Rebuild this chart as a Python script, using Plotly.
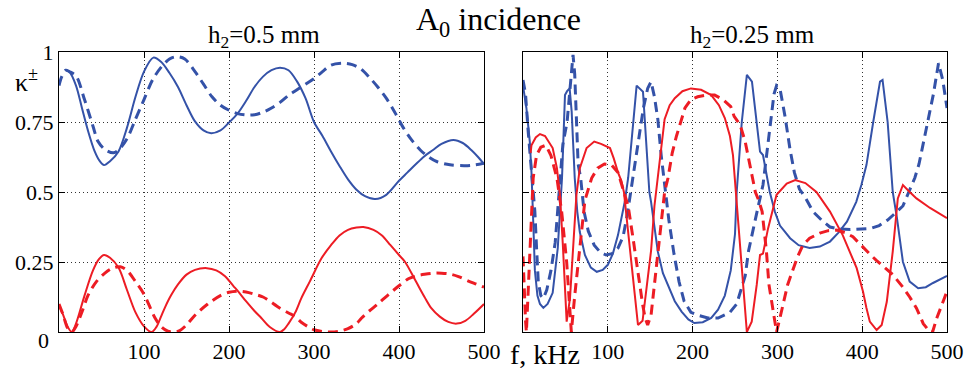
import plotly.graph_objects as go

# ---------------- data ----------------
# Left panel: h2 = 0.5 mm
L_bs_f = [8, 12, 20, 27, 34, 42, 48, 53, 60, 70, 80, 90, 100, 111, 120, 130, 140, 150, 160, 170, 179, 190,
          200, 210, 220, 230, 240, 250, 260, 270, 280, 290, 300, 310, 320, 330, 340, 350, 360, 372, 385,
          400, 410, 420, 430, 440, 450, 464, 475, 485, 493, 500]
L_bs_k = [0.935, 0.93, 0.88, 0.80, 0.72, 0.645, 0.61, 0.596, 0.61, 0.645, 0.73, 0.84, 0.93, 0.98, 0.965,
          0.925, 0.875, 0.81, 0.752, 0.72, 0.71, 0.72, 0.748, 0.78, 0.825, 0.875, 0.912, 0.935, 0.944, 0.935,
          0.895, 0.835, 0.75, 0.70, 0.645, 0.593, 0.545, 0.508, 0.485, 0.475, 0.49, 0.54, 0.57, 0.60, 0.628,
          0.65, 0.672, 0.686, 0.675, 0.65, 0.625, 0.60]

L_bd_f = [0, 3, 8, 12, 20, 30, 40, 46, 54, 64, 70, 80, 90, 100, 110, 120, 130, 138, 148, 160, 170, 180, 190,
          200, 210, 220, 230, 240, 250, 260, 270, 280, 290, 300, 310, 320, 334, 345, 355, 365, 375, 385, 395,
          405, 415, 425, 435, 445, 460, 478, 490, 500]
L_bd_k = [0.88, 0.91, 0.935, 0.93, 0.915, 0.83, 0.735, 0.68, 0.652, 0.64, 0.65, 0.69, 0.76, 0.83, 0.90,
          0.945, 0.975, 0.983, 0.975, 0.93, 0.885, 0.84, 0.81, 0.792, 0.78, 0.775, 0.776, 0.785, 0.80, 0.82,
          0.845, 0.865, 0.885, 0.905, 0.93, 0.953, 0.96, 0.955, 0.94, 0.91, 0.875, 0.835, 0.785, 0.73, 0.685,
          0.65, 0.625, 0.608, 0.597, 0.594, 0.597, 0.603]

L_rs_f = [0, 5, 10, 15, 20, 30, 40, 47, 53, 60, 70, 80, 90, 100, 109, 115, 120, 125, 132, 140, 150, 160, 174,
          185, 195, 205, 211, 220, 230, 238, 248, 260, 265, 270, 278, 285, 295, 309, 320, 330, 340, 350, 358,
          370, 380, 390, 400, 407, 420, 430, 438, 448, 458, 468, 478, 488, 500]
L_rs_k = [0.096, 0.06, 0.02, 0.0, 0.03, 0.13, 0.22, 0.26, 0.275, 0.265, 0.23, 0.15, 0.07, 0.02, 0.0, 0.02,
          0.055, 0.09, 0.132, 0.17, 0.205, 0.222, 0.228, 0.22, 0.20, 0.165, 0.144, 0.11, 0.075, 0.05, 0.018,
          0.0, 0.01, 0.03, 0.07, 0.12, 0.18, 0.264, 0.31, 0.345, 0.365, 0.373, 0.375, 0.365, 0.345, 0.31,
          0.275, 0.251, 0.18, 0.125, 0.085, 0.055, 0.036, 0.03, 0.04, 0.065, 0.10]

L_rd_f = [0, 5, 10, 15, 20, 28, 34, 44, 54, 63, 72, 80, 90, 100, 113, 120, 128, 135, 142, 150, 160, 175, 191,
          200, 210, 220, 230, 240, 246, 260, 270, 278, 285, 293, 300, 310, 320, 330, 340, 350, 356, 365, 375,
          387, 400, 411, 420, 430, 440, 450, 460, 470, 481, 490, 500]
L_rd_k = [0.10, 0.06, 0.015, 0.0, 0.02, 0.08, 0.13, 0.18, 0.21, 0.228, 0.233, 0.22, 0.18, 0.135, 0.05, 0.02,
          0.003, 0.0, 0.005, 0.025, 0.06, 0.10, 0.132, 0.142, 0.146, 0.143, 0.135, 0.125, 0.114, 0.085,
          0.068, 0.055, 0.035, 0.019, 0.008, 0.002, 0.0, 0.003, 0.012, 0.03, 0.05, 0.075, 0.10, 0.132, 0.165,
          0.19, 0.20, 0.206, 0.21, 0.21, 0.207, 0.198, 0.183, 0.172, 0.16]

# Right panel: h2 = 0.25 mm
R_bs_f = [0, 4, 8, 10, 12, 14, 17, 20, 24, 29, 35, 41, 46, 49.5, 52, 55, 57.4, 61, 64, 67, 73, 80, 87, 94,
          100, 106, 112, 116, 120, 124, 129, 134, 141.5, 149, 151, 155, 159, 165, 171, 179, 187, 195, 202,
          212, 222, 230, 238, 245, 250, 252, 258, 264, 270, 279.5, 283, 291, 297, 303, 315, 325, 338, 350,
          362, 372, 382, 393, 399, 405, 413, 421, 424, 430, 436, 441, 448, 456, 466, 475, 483.5, 500]
R_bs_k = [0.88, 0.80, 0.68, 0.57, 0.40, 0.22, 0.13, 0.10, 0.086, 0.10, 0.14, 0.30, 0.55, 0.846, 0.86, 0.87,
          0.787, 0.55, 0.43, 0.357, 0.275, 0.23, 0.215, 0.222, 0.24, 0.28, 0.346, 0.40, 0.465, 0.55, 0.72,
          0.88, 0.858, 0.50, 0.465, 0.37, 0.287, 0.21, 0.168, 0.11, 0.073, 0.045, 0.032, 0.035, 0.05, 0.08,
          0.13, 0.22, 0.35, 0.50, 0.75, 0.918, 0.894, 0.644, 0.632, 0.50, 0.43, 0.38, 0.335, 0.31, 0.30,
          0.305, 0.323, 0.355, 0.394, 0.465, 0.525, 0.596, 0.75, 0.894, 0.90, 0.75, 0.50, 0.407, 0.251, 0.18,
          0.156, 0.16, 0.175, 0.20]

R_bd_f = [0, 3, 6, 9, 12, 14, 16, 18, 21, 24, 28, 33, 38, 41, 44, 47, 52, 56, 59, 61, 63, 65, 68, 72, 77,
          84, 91, 98, 105, 112, 118, 123, 127, 132, 137, 142, 147, 151, 155, 159, 163, 167, 172, 178, 184,
          190, 198, 206, 218, 230, 244, 252, 258, 262, 266, 270, 276, 283, 288, 292, 296, 299, 303, 309, 315,
          320, 326, 333, 342, 352, 362, 372, 386, 400, 410, 420, 430, 441, 448, 455, 462, 467, 472, 478, 484,
          490, 495, 500]
R_bd_k = [0.90, 0.85, 0.72, 0.60, 0.50, 0.43, 0.30, 0.18, 0.13, 0.12, 0.15, 0.22, 0.32, 0.43, 0.55, 0.67,
          0.75, 0.90, 0.99, 0.92, 0.75, 0.60, 0.55, 0.43, 0.36, 0.31, 0.285, 0.275, 0.28, 0.30, 0.34, 0.42,
          0.50, 0.60, 0.70, 0.80, 0.87, 0.894, 0.84, 0.76, 0.63, 0.52, 0.40, 0.28, 0.18, 0.11, 0.07, 0.06,
          0.05, 0.05, 0.07, 0.10, 0.16, 0.20, 0.29, 0.35, 0.43, 0.525, 0.64, 0.75, 0.85, 0.88, 0.87, 0.77,
          0.65, 0.57, 0.51, 0.48, 0.43, 0.40, 0.375, 0.368, 0.366, 0.367, 0.37, 0.38, 0.40, 0.43, 0.45, 0.50,
          0.55, 0.60, 0.67, 0.76, 0.85, 0.96, 0.90, 0.80]

R_rs_f = [9, 10, 15, 20, 26, 35, 40, 43.6, 47, 51.5, 55.4, 59, 63, 67, 75, 84, 92, 102.6, 107, 112, 116, 119,
          124, 129, 133, 135.6, 141, 146, 151, 155, 159, 163, 167, 173, 179, 188, 198, 210, 222, 231, 238,
          244, 247.6, 251, 255, 259, 262, 264, 269.7, 275.6, 279.5, 283, 289, 299, 311, 321, 333, 346, 362,
          377, 393.5, 401, 405, 409, 417, 423, 429, 436, 442, 448, 456, 464, 480, 500]
R_rs_k = [0.64, 0.667, 0.695, 0.707, 0.70, 0.657, 0.585, 0.49, 0.31, 0.037, 0.12, 0.31, 0.49, 0.585, 0.657,
          0.68, 0.672, 0.657, 0.62, 0.57, 0.54, 0.50, 0.35, 0.20, 0.08, 0.025, 0.04, 0.16, 0.29, 0.45, 0.55,
          0.67, 0.76, 0.81, 0.835, 0.86, 0.87, 0.865, 0.846, 0.81, 0.764, 0.70, 0.632, 0.50, 0.35, 0.20,
          0.08, 0.0, 0.037, 0.168, 0.275, 0.28, 0.37, 0.49, 0.53, 0.543, 0.532, 0.50, 0.43, 0.346, 0.228,
          0.144, 0.086, 0.037, 0.007, 0.025, 0.108, 0.287, 0.477, 0.525, 0.50, 0.477, 0.443, 0.407]

R_rd_f = [0, 1, 2, 3, 4, 6, 8, 12, 16, 21, 27, 33, 40, 45.6, 51.5, 55.4, 57, 61, 67, 73, 81, 88, 96, 104,
          112, 117, 124, 130, 136, 141, 144, 147, 151, 156, 161, 167, 171, 176, 181, 186, 191, 198, 206, 216,
          226, 236, 245, 249, 256, 262, 265, 270, 274, 278, 282, 285, 287, 290, 295, 299, 303, 312, 318, 324,
          330, 338, 350, 360, 370, 380, 389, 400, 410, 417, 425, 436, 448, 456, 464, 472, 480, 483, 488, 494,
          500]
R_rd_k = [0.27, 0.18, 0.10, 0.04, 0.0, 0.15, 0.31, 0.55, 0.632, 0.66, 0.667, 0.63, 0.55, 0.43, 0.25, 0.07,
          0.0, 0.13, 0.31, 0.47, 0.55, 0.585, 0.60, 0.598, 0.57, 0.52, 0.45, 0.33, 0.20, 0.10, 0.05, 0.025,
          0.06, 0.20, 0.35, 0.50, 0.55, 0.64, 0.70, 0.75, 0.80, 0.83, 0.84, 0.846, 0.846, 0.83, 0.805, 0.77,
          0.74, 0.68, 0.63, 0.56, 0.50, 0.47, 0.43, 0.35, 0.29, 0.17, 0.07, 0.0, 0.05, 0.168, 0.22, 0.27,
          0.31, 0.335, 0.353, 0.362, 0.364, 0.355, 0.34, 0.305, 0.275, 0.255, 0.235, 0.205, 0.16, 0.125,
          0.085, 0.03, 0.0, 0.0, 0.05, 0.10, 0.145]

x_ticks = [100, 200, 300, 400, 500]
x_ticktext = ["100", "200", "300", "400", "500"]
y_ticks = [0.25, 0.5, 0.75, 1]
y_ticktext = ["0.25", "0.5", "0.75", "1"]
y_zero_label = "0"

title = "A<sub>0</sub> incidence"
sub_left = "h<sub>2</sub>=0.5 mm"
sub_right = "h<sub>2</sub>=0.25 mm"

# ---------------- styling ----------------
BLUE = "rgb(52,82,168)"
RED = "rgb(237,28,36)"
FONT = "Liberation Serif, Times New Roman, serif"
W, H = 967, 372

fig = go.Figure()

def add(xs, ys, color, dashed, xa, ya, shape):
    fig.add_trace(go.Scatter(
        x=xs, y=ys, mode="lines", xaxis=xa, yaxis=ya, showlegend=False,
        line=dict(color=color, width=3 if dashed else 2,
                  dash="10px,6px" if dashed else "solid",
                  shape=shape, smoothing=0.9 if shape == "spline" else None),
        cliponaxis=True, hoverinfo="skip"))

add(L_bs_f, L_bs_k, BLUE, False, "x", "y", "spline")
add(L_bd_f, L_bd_k, BLUE, True, "x", "y", "spline")
add(L_rs_f, L_rs_k, RED, False, "x", "y", "spline")
add(L_rd_f, L_rd_k, RED, True, "x", "y", "spline")

add(R_bs_f, R_bs_k, BLUE, False, "x2", "y2", "linear")
add(R_bd_f, R_bd_k, BLUE, True, "x2", "y2", "linear")
add(R_rs_f, R_rs_k, RED, False, "x2", "y2", "linear")
add(R_rd_f, R_rd_k, RED, True, "x2", "y2", "linear")

ydom = [1 - 332 / H, 1 - 52 / H]
common = dict(showline=True, linecolor="black", linewidth=1, mirror="allticks",
              ticks="inside", ticklen=6, tickcolor="black",
              showgrid=True, gridcolor="rgba(0,0,0,0.8)", griddash="1px,3px", gridwidth=1,
              zeroline=False, automargin=False,
              tickfont=dict(family=FONT, size=22, color="black"))

fig.update_layout(
    width=W, height=H, margin=dict(l=0, r=0, t=0, b=0, autoexpand=False),
    paper_bgcolor="white", plot_bgcolor="white",
    xaxis=dict(domain=[59 / W, 484 / W], range=[0, 500], tickvals=x_ticks, ticktext=x_ticktext,
               anchor="y", **common),
    yaxis=dict(domain=ydom, range=[0, 1], tickvals=y_ticks, ticktext=y_ticktext, anchor="x",
               **common),
    xaxis2=dict(domain=[523 / W, 947 / W], range=[0, 500], tickvals=x_ticks, ticktext=x_ticktext,
                anchor="y2", **common),
    yaxis2=dict(domain=ydom, range=[0, 1], tickvals=y_ticks, showticklabels=False, anchor="x2",
                **common),
)

def ann(text, px, py, size, xanchor="center"):
    fig.add_annotation(text=text, x=px / W, y=1 - py / H, xref="paper", yref="paper",
                       showarrow=False, xanchor=xanchor, yanchor="middle",
                       font=dict(family=FONT, size=size, color="black"))

ann(title, 498, 22, 32)
ann(sub_left, 264, 36, 25)
ann(sub_right, 752, 36, 25)
ann("f, kHz", 545, 354, 28)
ann("κ<sup>±</sup>", 26, 80, 26)
ann(y_zero_label, 51, 340, 22, xanchor="right")

fig.write_html("out.html", config={"responsive": False, "displayModeBar": False},
               post_script="document.body.style.margin='0';document.body.style.overflow='hidden';")
